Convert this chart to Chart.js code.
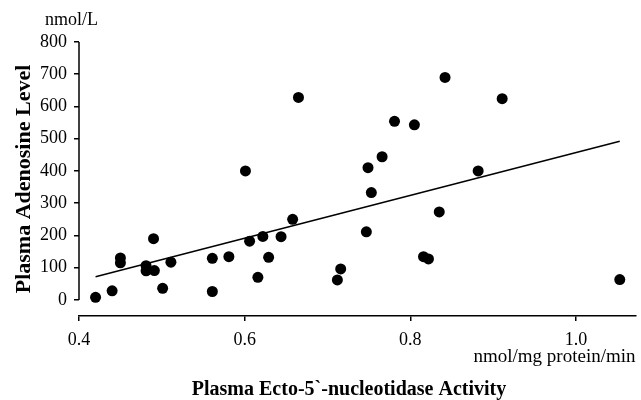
<!DOCTYPE html>
<html>
<head>
<meta charset="utf-8">
<script src="https://cdn.jsdelivr.net/npm/chart.js@4.4.1/dist/chart.umd.min.js"></script>
<style>
  body { margin: 0; background: #fff; }
  #wrap { width: 641px; height: 400px; }
</style>
</head>
<body>
<div id="wrap"><canvas id="scatter" width="641" height="400"></canvas></div>
<script>
// ecto-5'-nucleotidase activity (nmol/mg protein/min) vs plasma adenosine (nmol/L)
var activity = [0.420, 0.440, 0.450, 0.450, 0.481, 0.481, 0.491, 0.490, 0.501, 0.511,
                0.561, 0.561, 0.581, 0.601, 0.606, 0.616, 0.622, 0.629, 0.644, 0.658,
                0.665, 0.712, 0.716, 0.747, 0.749, 0.753, 0.766, 0.781, 0.805, 0.842,
                0.835, 0.816, 0.822, 0.882, 0.911, 1.053];
var adenosine = [8, 28, 130, 115, 106, 90, 91, 190, 36, 117,
                 129, 26, 134, 400, 182, 70, 197, 132, 196, 250,
                 628, 62, 96, 211, 410, 333, 444, 554, 543, 690,
                 273, 134, 127, 400, 624, 63];
// regression line end points
var fitX = [0.420, 1.053];
var fitY = [72, 492];
var xTicks = [0.4, 0.6, 0.8, 1.0];
var yTicks = [0, 100, 200, 300, 400, 500, 600, 700, 800];

var serif = "'Liberation Serif', 'Times New Roman', serif";

var points = activity.map(function (v, i) { return { x: v, y: adenosine[i] }; });
var fit = fitX.map(function (v, i) { return { x: v, y: fitY[i] }; });

var extras = {
    id: 'extras',
    afterDraw: function (chart) {
        var c = chart.ctx;
        var xs = chart.scales.x, ys = chart.scales.y;
        c.save();
        // y axis line only spans the tick range
        c.strokeStyle = '#000';
        c.lineWidth = 1.5;
        c.beginPath();
        c.moveTo(xs.getPixelForValue(xTicks[0]), ys.getPixelForValue(yTicks[0]));
        c.lineTo(xs.getPixelForValue(xTicks[0]), ys.getPixelForValue(yTicks[yTicks.length - 1]));
        c.stroke();

        c.fillStyle = '#000';
        c.textBaseline = 'middle';
        c.font = '18px ' + serif;
        c.textAlign = 'left';
        c.fillText('nmol/L', 45, 20);

        c.font = 'bold 20px ' + serif;
        c.textAlign = 'center';
        c.fillText('Plasma Ecto-5`-nucleotidase Activity', 349, 390);
        c.restore();
    }
};

var ctx = document.getElementById('scatter').getContext('2d');
var chart = new Chart(ctx, {
    type: 'scatter',
    data: {
        datasets: [{
            label: 'Patients',
            data: points,
            backgroundColor: '#000',
            borderWidth: 0,
            pointRadius: 5.5,
            pointHoverRadius: 5.5
        }, {
            type: 'line',
            label: 'Fit',
            data: fit,
            borderColor: '#000',
            borderWidth: 1.5,
            pointRadius: 0,
            fill: false
        }]
    },
    options: {
        responsive: false,
        animation: false,
        layout: { padding: { top: 42, right: 3, left: 0, bottom: 0 } },
        plugins: {
            legend: { display: false },
            tooltip: { enabled: false }
        },
        scales: {
            x: {
                type: 'linear',
                min: 0.4,
                max: 1.072,
                afterBuildTicks: function (s) { s.ticks = xTicks.map(function (v) { return { value: v }; }); },
                afterFit: function (s) { s.height = 84; },
                border: { display: true, color: '#000', width: 1.5 },
                grid: { drawOnChartArea: false, tickLength: 5, color: '#000', lineWidth: 1.5 },
                ticks: {
                    color: '#000',
                    padding: 8,
                    font: { family: serif, size: 18 },
                    callback: function (v) { return Number(v).toFixed(1); }
                },
                title: {
                    display: true,
                    text: 'nmol/mg protein/min',
                    align: 'end',
                    color: '#000',
                    font: { family: serif, size: 19 },
                    padding: { top: 0, bottom: 32 }
                }
            },
            y: {
                min: -50,
                max: 800,
                afterBuildTicks: function (s) { s.ticks = yTicks.map(function (v) { return { value: v }; }); },
                afterFit: function (s) { s.width = 79; },
                border: { display: false },
                grid: { drawOnChartArea: false, tickLength: 5, color: '#000', lineWidth: 1.5 },
                ticks: {
                    color: '#000',
                    padding: 7,
                    font: { family: serif, size: 18 }
                },
                title: {
                    display: true,
                    text: 'Plasma Adenosine Level',
                    color: '#000',
                    font: { family: serif, size: 22, weight: 'bold' },
                    padding: { top: 11, bottom: 0 }
                }
            }
        }
    },
    plugins: [extras]
});
</script>
</body>
</html>
